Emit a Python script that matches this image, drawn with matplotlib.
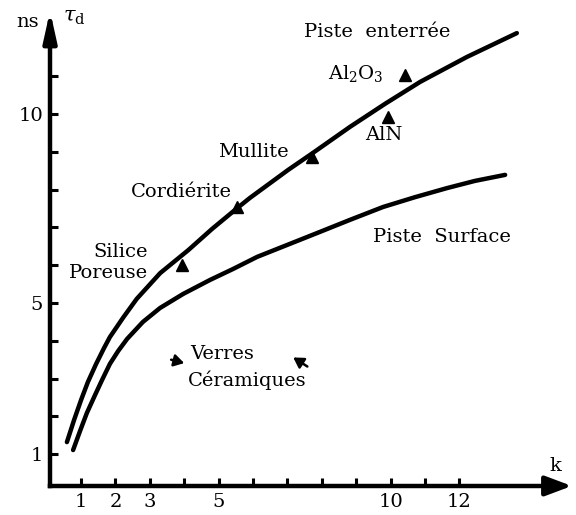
import matplotlib.pyplot as plt

plt.rcParams['font.family'] = 'DejaVu Serif'
plt.rcParams['mathtext.fontset'] = 'dejavuserif'

# --- Courbes (k, tau_d en ns) ---
k_enterree = [0.59, 0.80, 1.00, 1.20, 1.44, 1.67, 1.84, 2.23, 2.62, 3.30, 4.12, 4.81, 5.54,
              5.91, 7.02, 7.74, 8.82, 9.84, 10.86, 12.22, 13.67]
td_enterree = [1.32, 1.91, 2.43, 2.91, 3.39, 3.81, 4.10, 4.62, 5.11, 5.79, 6.40, 6.96, 7.51,
               7.78, 8.52, 8.97, 9.66, 10.27, 10.85, 11.51, 12.14]

k_surface = [0.77, 0.97, 1.17, 1.41, 1.61, 1.84, 2.08, 2.34, 2.80, 3.30, 3.97, 4.75, 5.42,
             6.12, 7.86, 8.82, 9.78, 10.71, 11.64, 12.45, 13.33]
td_surface = [1.11, 1.61, 2.09, 2.57, 2.96, 3.39, 3.73, 4.05, 4.50, 4.87, 5.24, 5.61, 5.90,
              6.22, 6.85, 7.20, 7.54, 7.80, 8.04, 8.23, 8.39]

# Matériaux (triangles)
materiaux = ['Silice Poreuse', 'Cordiérite', 'Mullite', 'AlN', 'Al2O3']
k_mat = [3.94, 5.54, 7.72, 9.92, 10.42]
td_mat = [6.01, 7.54, 8.86, 9.92, 11.03]

x_ticks = list(range(1, 13))
x_labels = ['1', '2', '3', '', '5', '', '', '', '', '10', '', '12']
y_ticks = list(range(1, 12))
y_labels = ['1', '', '', '', '5', '', '', '', '', '10', '']

x0, y0 = 0.1, 0.16  # origine des axes dessinés

fig = plt.figure(figsize=(5.76, 5.15), dpi=100)
ax = fig.add_axes([0, 0, 1, 1])
ax.set_xlim(-1.355, 15.39)
ax.set_ylim(-0.608, 13.016)

# axes façon figure scannée
for s in ['top', 'right']:
    ax.spines[s].set_visible(False)
ax.spines['left'].set_position(('data', x0))
ax.spines['bottom'].set_position(('data', y0))
ax.spines['left'].set_bounds(y0, 12.4)
ax.spines['bottom'].set_bounds(x0, 14.8)
ax.spines['left'].set_linewidth(3.2)
ax.spines['bottom'].set_linewidth(3.2)

ax.set_xticks(x_ticks)
ax.set_xticklabels(x_labels)
ax.set_yticks(y_ticks)
ax.set_yticklabels(y_labels)
ax.tick_params(direction='in', length=6, width=2.2, labelsize=14, colors='black')
ax.tick_params(axis='x', pad=5)
ax.tick_params(axis='y', pad=5)

# flèches au bout des axes
ax.annotate('', xy=(15.35, y0), xytext=(14.5, y0),
            arrowprops=dict(arrowstyle='-|>,head_length=0.8,head_width=0.3',
                            lw=3.2, color='black', mutation_scale=20))
ax.annotate('', xy=(x0, 12.8), xytext=(x0, 12.0),
            arrowprops=dict(arrowstyle='-|>,head_length=0.9,head_width=0.2',
                            lw=3.2, color='black', mutation_scale=20))

# courbes
ax.plot(k_enterree, td_enterree, color='black', lw=3.2, solid_capstyle='round',
        solid_joinstyle='round')
ax.plot(k_surface, td_surface, color='black', lw=3.2, solid_capstyle='round',
        solid_joinstyle='round')
ax.plot(k_mat, td_mat, linestyle='none', marker='^', color='black', markersize=8)

# flèches "Verres Céramiques"
ax.annotate('', xy=(4.0, 3.41), xytext=(3.62, 3.50),
            arrowprops=dict(arrowstyle='-|>,head_length=0.5,head_width=0.3', lw=1.8,
                            color='black', mutation_scale=12, shrinkA=0, shrinkB=0))
ax.annotate('', xy=(7.17, 3.56), xytext=(7.58, 3.32),
            arrowprops=dict(arrowstyle='-|>,head_length=0.5,head_width=0.3', lw=1.8,
                            color='black', mutation_scale=12, shrinkA=0, shrinkB=0))

# textes
fs = 14
ax.text(9.605, 12.17, 'Piste  enterrée', fontsize=fs, ha='center', va='center')
ax.text(8.18, 11.08, r'Al$_2$O$_3$', fontsize=fs, ha='left', va='center')
ax.text(9.81, 9.44, 'AlN', fontsize=fs, ha='center', va='center')
ax.text(6.0, 9.0, 'Mullite', fontsize=fs, ha='center', va='center')
ax.text(3.91, 7.94, 'Cordiérite', fontsize=fs, ha='center', va='center')
ax.text(2.16, 6.35, 'Silice', fontsize=fs, ha='center', va='center')
ax.text(1.79, 5.79, 'Poreuse', fontsize=fs, ha='center', va='center')
ax.text(11.49, 6.75, 'Piste  Surface', fontsize=fs, ha='center', va='center')
ax.text(5.10, 3.65, 'Verres', fontsize=fs, ha='center', va='center')
ax.text(5.83, 2.96, 'Céramiques', fontsize=fs, ha='center', va='center')
ax.text(-0.54, 12.43, 'ns', fontsize=fs, ha='center', va='center')
ax.text(0.80, 12.55, r'$\tau_{\rm d}$', fontsize=15, ha='center', va='center')
ax.text(14.78, 0.69, 'k', fontsize=fs, ha='center', va='center')

fig.savefig('out.png', dpi=100)
